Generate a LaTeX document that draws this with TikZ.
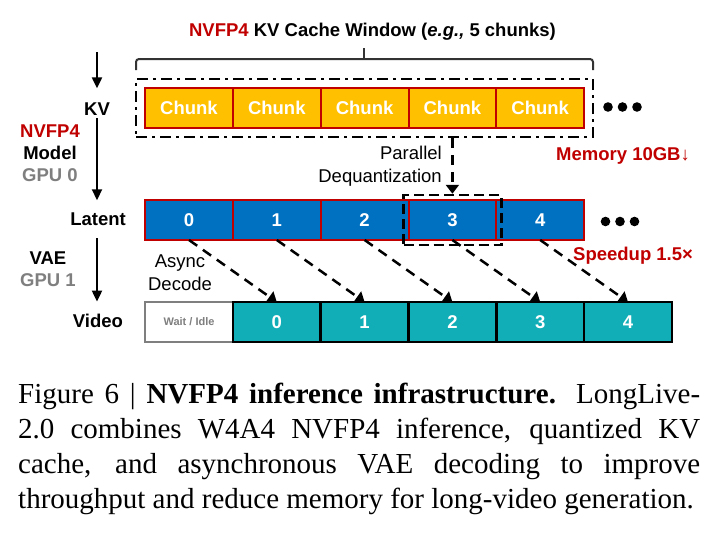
\documentclass[tikz,border=0pt]{standalone}
\usepackage{fontspec}
\setmainfont{Liberation Serif}
\setsansfont{Liberation Sans}
\usepackage{tikz}
\usetikzlibrary{positioning,arrows.meta,fit}
\usepackage{xcolor}
\definecolor{nvred}{HTML}{C00000}
\definecolor{chunkfill}{HTML}{FFC000}
\definecolor{latblue}{HTML}{0070C0}
\definecolor{vidteal}{HTML}{12AEB7}
\definecolor{gpugray}{HTML}{7F7F7F}

\begin{document}
\begin{tikzpicture}[
  x=1pt, y=-1pt,
  >={Triangle[length=11pt,width=10pt]},
  lbl/.style={font=\fontsize{18.5}{22}\selectfont\sffamily\bfseries, inner sep=3pt, align=center},
  note/.style={font=\fontsize{18.5}{23}\selectfont\sffamily, inner sep=0pt, align=center},
  chunk/.style={draw=nvred, fill=chunkfill, line width=2pt, text=white,
                font=\fontsize{18.5}{22}\selectfont\sffamily\bfseries,
                minimum width=87.8pt, minimum height=40pt, inner sep=0pt, outer sep=0pt},
  lat/.style={chunk, fill=latblue},
  vid/.style={chunk, draw=black, fill=vidteal, line width=2.5pt},
  idle/.style={vid, draw=gpugray, fill=white, text=gpugray,
               font=\fontsize{11}{13}\selectfont\sffamily\bfseries},
  window/.style={draw, line width=2.5pt, dash pattern=on 11pt off 5pt on 3pt off 5pt, inner sep=9pt},
  decode/.style={line width=2.5pt, dash pattern=on 10pt off 7pt, -{Triangle[length=9pt,width=13pt]}},
  captxt/.style={font=\fontsize{29}{35}\selectfont, anchor=base west, inner sep=0pt},
  node distance=0pt
]
  \useasboundingbox (0,0) rectangle (719,533);

  % title and brace
  \node[lbl, anchor=base, inner sep=0pt] (title) at (372.5,36)
    {\textcolor{nvred}{NVFP4} KV Cache Window (\textit{e.g.,} 5 chunks)};
  \draw[black!80, line width=2pt, rounded corners=3pt] (136,70) -- (136,59) -- (593,59) -- (593,70);
  \draw[black!80, line width=2pt] (364,59) -- (364,48);

  % KV cache chunks
  \node[chunk] (k0) at (189,108) {Chunk};
  \node[chunk, right=of k0] (k1) {Chunk};
  \node[chunk, right=of k1] (k2) {Chunk};
  \node[chunk, right=of k2] (k3) {Chunk};
  \node[chunk, right=of k3] (k4) {Chunk};
  \node[window, fit=(k0)(k4)] (win) {};
  \fill (608,107) circle[radius=4.8pt] (622.5,107) circle[radius=4.8pt] (637,107) circle[radius=4.8pt];
  \node[lbl, anchor=base west, inner sep=0pt, text=nvred] (mem) at (556,160) {Memory 10GB↓};

  % latents
  \node[lat] (l0) at (189,220) {0};
  \node[lat, right=of l0] (l1) {1};
  \node[lat, right=of l1] (l2) {2};
  \node[lat, right=of l2] (l3) {3};
  \node[lat, right=of l3] (l4) {4};
  \node[draw, line width=2.5pt, dash pattern=on 10pt off 5pt, fit=(l3), inner sep=5pt] (dq) {};
  \fill (605.5,221.5) circle[radius=4.8pt] (620,221.5) circle[radius=4.8pt] (634.5,221.5) circle[radius=4.8pt];
  \node[lbl, anchor=base west, inner sep=0pt, text=nvred] (speed) at (573,260) {Speedup 1.5×};

  \node[note, align=right, anchor=east] (par) at (442,166.5) {Parallel\\Dequantization};
  \draw[decode] (win.south -| dq.north) -- (dq.north);

  % video frames
  \node[idle] (idle) at (189,322) {Wait / Idle};
  \node[vid, right=of idle] (v0) {0};
  \node[vid, right=of v0] (v1) {1};
  \node[vid, right=of v1] (v2) {2};
  \node[vid, right=of v2] (v3) {3};
  \node[vid, right=of v3] (v4) {4};

  \node[note] (async) at (180,273) {Async\\Decode};
  \draw[decode] (l0.south) -- (v0.north);
  \draw[decode] (l1.south) -- (v1.north);
  \draw[decode] (l2.south) -- (v2.north);
  \draw[decode] (l3.south) -- (v3.north);
  \draw[decode] (l4.south) -- (v4.north);

  % left column
  \coordinate (kvtop) at (97,52);
  \node[lbl, anchor=base] (kv) at (97,115) {KV};
  \node[lbl] (model) at (50,153.5) {\textcolor{nvred}{NVFP4}\\Model\\\textcolor{gpugray}{GPU 0}};
  \node[lbl, anchor=base] (latent) at (98,225) {Latent};
  \node[lbl] (vae) at (48,269.5) {VAE\\\textcolor{gpugray}{GPU 1}};
  \node[lbl, anchor=base] (video) at (98,327) {Video};
  \draw[->, line width=2pt, shorten >=10.7pt] (kvtop) -- (kvtop |- kv.north);
  \draw[->, line width=2pt, shorten >=8.8pt] (kv.south) -- (kv.south |- latent.north);
  \draw[->, line width=2pt, shorten <=10pt, shorten >=8.8pt] (kv.south |- latent.south) -- (kv.south |- video.north);

  % caption
  \node[captxt] (cap1) at (18,403) {\makebox[682pt][s]{Figure 6 | \textbf{NVFP4 inference infrastructure.} LongLive-}};
  \node[captxt] (cap2) at (18,438) {\makebox[682pt][s]{2.0 combines W4A4 NVFP4 inference, quantized KV}};
  \node[captxt] (cap3) at (18,473) {\makebox[682pt][s]{cache, and asynchronous VAE decoding to improve}};
  \node[captxt] (cap4) at (18,508) {throughput and reduce memory for long-video generation.};
\end{tikzpicture}
\end{document}
